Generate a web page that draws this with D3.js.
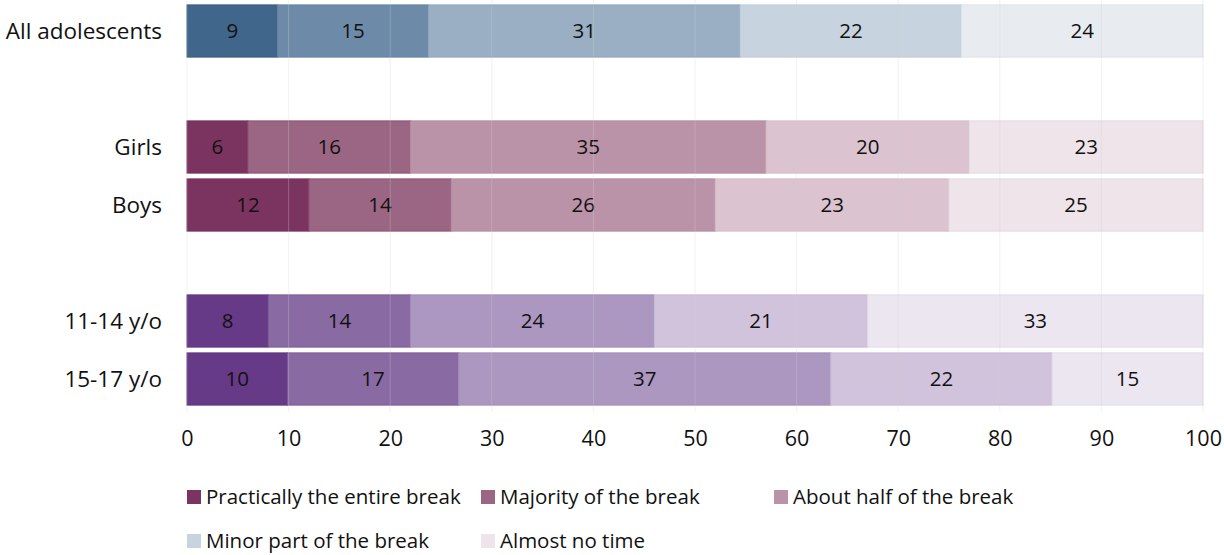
<!DOCTYPE html>
<html>
<head>
<meta charset="utf-8">
<script src="https://cdn.jsdelivr.net/npm/d3@7"></script>
<style>
  html, body { margin: 0; padding: 0; background: #fff; }
  svg { display: block; font-family: "Open Sans", "Noto Sans", sans-serif; }
</style>
</head>
<body>
<svg id="chart" width="1224" height="555"></svg>
<script>
// Share of break time spent on the phone, by group (%)
const groups = ["All adolescents", "Girls", "Boys", "11-14 y/o", "15-17 y/o"];
const seriesNames = ["Practically the entire break", "Majority of the break", "About half of the break", "Minor part of the break", "Almost no time"];
const allValues   = [9, 15, 31, 22, 24];
const girlsValues = [6, 16, 35, 20, 23];
const boysValues  = [12, 14, 26, 23, 25];
const age1114Values = [8, 14, 24, 21, 33];
const age1517Values = [10, 17, 37, 22, 15];
const xTicks = [0, 10, 20, 30, 40, 50, 60, 70, 80, 90, 100];

// Rows with empty spacer slots between the group blocks
const slots = ["All adolescents", "gap1", "Girls", "Boys", "gap2", "11-14 y/o", "15-17 y/o"];
const rowValues = {
  "All adolescents": allValues,
  "Girls": girlsValues,
  "Boys": boysValues,
  "11-14 y/o": age1114Values,
  "15-17 y/o": age1517Values
};

// Colour ramps per block
const bluePalette   = ["#41668b", "#6d8ba9", "#9aafc4", "#c7d3de", "#e8ecf1"];
const pinkPalette   = ["#7b3460", "#9b6683", "#bb93a9", "#dbc3d0", "#efe4ea"];
const purplePalette = ["#673a87", "#8a6aa3", "#ab97c0", "#d1c3dc", "#ece6f1"];
const bluePaletteStroke   = ["#3a5e82", "#6785a3", "#8ea6bd", "#c0ccd8", "#dfe3e8"];
const pinkPaletteStroke   = ["#74305a", "#8f4f74", "#b289a0", "#d3b9c7", "#e4dbe0"];
const purplePaletteStroke = ["#60367f", "#7d5a98", "#a18cb7", "#c8b9d4", "#e2dde7"];
const rowPalette = {
  "All adolescents": [bluePalette, bluePaletteStroke],
  "Girls": [pinkPalette, pinkPaletteStroke],
  "Boys": [pinkPalette, pinkPaletteStroke],
  "11-14 y/o": [purplePalette, purplePaletteStroke],
  "15-17 y/o": [purplePalette, purplePaletteStroke]
};
const legendColors = [pinkPalette[0], pinkPalette[1], pinkPalette[2], bluePalette[3], pinkPalette[4]];

const svg = d3.select("#chart");

// Percent-stacked: each row is expanded to its full total (rounded shares may sum to 101)
const x = d3.scaleLinear().domain([0, 100]).range([187, 1203]);
const y = d3.scaleBand().domain(slots).range([2, 408]).paddingInner(0.1).paddingOuter(0.05);

const table = groups.map(g => {
  const o = { group: g };
  seriesNames.forEach((s, i) => { o[s] = rowValues[g][i]; });
  return o;
});
const stacked = d3.stack().keys(seriesNames).offset(d3.stackOffsetExpand)(table);

const segs = [];
stacked.forEach((layer, i) => {
  layer.forEach(p => {
    segs.push({
      i,
      group: p.data.group,
      v: p.data[seriesNames[i]],
      x0: p[0] * 100,
      x1: p[1] * 100
    });
  });
});

const barG = svg.append("g");
barG.selectAll("rect").data(segs).join("rect")
  .attr("x", d => x(d.x0))
  .attr("y", d => y(d.group))
  .attr("width", d => x(d.x1) - x(d.x0))
  .attr("height", y.bandwidth())
  .attr("fill", d => rowPalette[d.group][0][d.i])
  .attr("stroke", d => rowPalette[d.group][1][d.i])
  .attr("stroke-width", 1);

barG.selectAll("text").data(segs).join("text")
  .attr("x", d => x((d.x0 + d.x1) / 2))
  .attr("y", d => y(d.group) + y.bandwidth() / 2)
  .attr("dy", "0.36em")
  .attr("text-anchor", "middle")
  .attr("font-size", 20.5)
  .attr("fill", "#111")
  .text(d => d.v);

// Faint vertical gridlines, showing through the bars
svg.append("g").selectAll("line").data(xTicks).join("line")
  .attr("x1", d => x(d)).attr("x2", d => x(d))
  .attr("y1", 0).attr("y2", 412)
  .attr("stroke", "#d0d0d0")
  .attr("stroke-opacity", 0.3)
  .attr("stroke-width", 1);

// Category labels
svg.append("g").selectAll("text").data(groups).join("text")
  .attr("x", 162)
  .attr("y", d => y(d) + y.bandwidth() / 2)
  .attr("dy", "0.36em")
  .attr("text-anchor", "end")
  .attr("font-size", 22.5)
  .attr("fill", "#111")
  .text(d => d);

// X axis (labels only)
const xAxis = d3.axisBottom(x).tickValues(xTicks).tickSize(0).tickPadding(0);
const axisG = svg.append("g").attr("transform", "translate(0,431)").call(xAxis);
axisG.select(".domain").remove();
axisG.selectAll("text")
  .attr("font-size", 21.5)
  .attr("font-family", "\"Open Sans\", \"Noto Sans\", sans-serif")
  .attr("fill", "#111");

// Legend
const legendPos = [
  { x: 187, y: 497 }, { x: 481, y: 497 }, { x: 774, y: 497 },
  { x: 187, y: 541 }, { x: 481, y: 541 }
];
const legend = svg.append("g").selectAll("g").data(seriesNames).join("g")
  .attr("transform", (d, i) => `translate(${legendPos[i].x},${legendPos[i].y})`);
legend.append("rect")
  .attr("x", 0).attr("y", -7)
  .attr("width", 14).attr("height", 14)
  .attr("fill", (d, i) => legendColors[i]);
legend.append("text")
  .attr("x", 19).attr("y", 0)
  .attr("dy", "0.34em")
  .attr("font-size", 20.5)
  .attr("fill", "#111")
  .text(d => d);
</script>
</body>
</html>
